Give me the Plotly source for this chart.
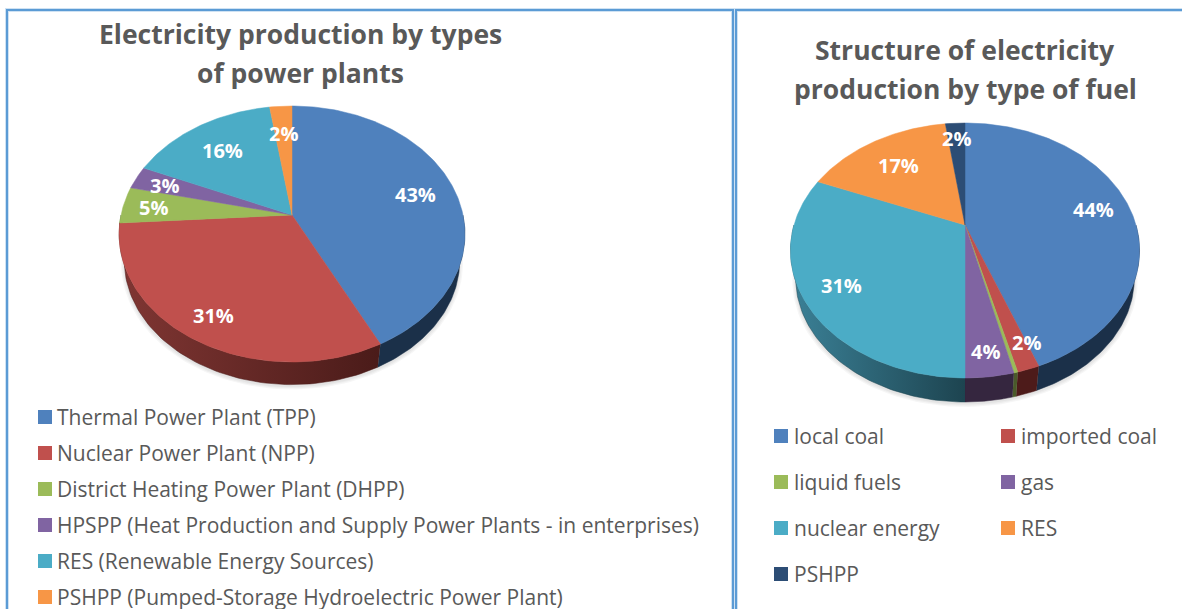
import numpy as np
import plotly.graph_objects as go

# left pie: electricity production by types of power plants
plant_names = ["Thermal Power Plant (TPP)", "Nuclear Power Plant (NPP)",
               "District Heating Power Plant (DHPP)",
               "HPSPP (Heat Production and Supply Power Plants - in enterprises)",
               "RES (Renewable Energy Sources)",
               "PSHPP (Pumped-Storage Hydroelectric Power Plant)"]
plant_shares = [42.6, 31.4, 4.6, 2.9, 16.1, 2.4]
plant_colours = ["#4F81BD", "#C0504D", "#9BBB59", "#8064A2", "#4BACC6", "#F79646"]
plant_label_pos = [0.77, 0.80, 0.82, 0.82, 0.74, 0.76]
plant_label_turn = [0, 0, 0, 0, 0, 0]

# right pie: structure by type of fuel
fuel_names = ["local coal", "imported coal", "liquid fuels", "gas",
              "nuclear energy", "RES", "PSHPP"]
fuel_shares = [44.3, 1.7, 0.3, 3.7, 31.2, 16.6, 2.2]
fuel_colours = ["#4F81BD", "#C0504D", "#9BBB59", "#8064A2", "#4BACC6", "#F79646", "#2C4D75"]
fuel_label_pos = [0.79, 0.825, 0.0, 0.83, 0.77, 0.73, 0.86]
fuel_label_turn = [0, -0.06, 0, 0, 0, 0, 0]

# side wall colours, left end and right end of each slice
plant_walls = [("#1B3049", "#1B3049"), ("#803633", "#4A1B19"), ("#5C7035", "#5C7035"),
               ("#4C3B61", "#4C3B61"), ("#2D6776", "#2D6776"), ("#94591F", "#94591F")]
fuel_walls = [("#1B3049", "#1B3049"), ("#4D1B1A", "#4D1B1A"), ("#4A5A2A", "#4A5A2A"),
              ("#35263F", "#35263F"), ("#3B8197", "#1D4450"), ("#94591F", "#94591F"),
              ("#1B3049", "#1B3049")]

GREY = "#595959"
FRAME = "#5B9BD5"
FRAME_EDGE = "#CFE2F3"
FONT = "Open Sans"


def rim(theta, cx, cy, a, b, p, scale=1.0, drop=0.0):
    # tilted disc, the near edge is drawn bigger than the far edge
    u, v = np.sin(theta), np.cos(theta)
    w = 1 + p * v
    return cx + scale * a * u / w, cy - scale * b * v / w + drop


def add_pie(fig, shares, colours, walls, label_pos, label_turn, cx, cy, a, b, p, drop):
    edges = 2 * np.pi * np.cumsum([0] + shares) / sum(shares)

    # soft shadow under the disc
    t = np.linspace(0, 2 * np.pi, 200)
    for grow in [1.02, 1.012, 1.004]:
        x, y = rim(t, cx, cy, a, b, p, 0.97 * grow, drop + 2)
        fig.add_trace(go.Scatter(x=x, y=y, mode="lines", fill="toself", line_width=0,
                                 fillcolor="rgba(0,0,0,0.035)", hoverinfo="skip"))

    # side walls, only the front half of the disc shows them
    for i in range(len(shares)):
        start, end = max(edges[i], np.pi / 2), min(edges[i + 1], 3 * np.pi / 2)
        if end <= start:
            continue
        t = np.linspace(start, end, 80)
        x0, y0 = rim(t, cx, cy, a, b, p)
        x1, y1 = rim(t[::-1], cx, cy, a, b, p, 0.97, drop)
        fig.add_trace(go.Scatter(
            x=np.r_[x0, x1], y=np.r_[y0, y1], mode="lines", fill="toself",
            line=dict(width=0.5, color=walls[i][1]), hoverinfo="skip",
            fillgradient=dict(type="horizontal",
                              colorscale=[[0, walls[i][0]], [1, walls[i][1]]])))

    # top of the disc
    for i in range(len(shares)):
        t = np.linspace(edges[i], edges[i + 1], max(int(shares[i] * 4), 3))
        x, y = rim(t, cx, cy, a, b, p)
        fig.add_trace(go.Scatter(x=np.r_[cx, x, cx], y=np.r_[cy, y, cy], mode="lines",
                                 fill="toself", fillcolor=colours[i],
                                 line=dict(width=0.5, color=colours[i]), hoverinfo="skip"))

    # percent labels
    for i in range(len(shares)):
        if label_pos[i] == 0:
            continue
        x, y = rim((edges[i] + edges[i + 1]) / 2 + label_turn[i], cx, cy, a, b, p)
        fig.add_annotation(x=cx + label_pos[i] * (x - cx), y=cy + label_pos[i] * (y - cy) + 1,
                           text=f"<b>{shares[i]:.0f}%</b>", showarrow=False, borderpad=0,
                           font=dict(family=FONT, size=20, color="white"))


def add_legend(fig, names, colours, xs, ys, gap):
    fig.add_trace(go.Scatter(x=xs, y=ys, mode="markers", hoverinfo="skip",
                             marker=dict(symbol="square", size=14, color=colours, line_width=0)))
    for name, x, y in zip(names, xs, ys):
        fig.add_annotation(x=x + gap, y=y, text=name, showarrow=False, xanchor="left",
                           font=dict(family=FONT, size=21, color=GREY))


def add_title(fig, lines, x, y0):
    for i, line in enumerate(lines):
        fig.add_annotation(x=x, y=y0 + 39 * i, text=f"<b>{line}</b>", showarrow=False,
                           font=dict(family=FONT, size=26.5, color=GREY))


fig = go.Figure()

add_pie(fig, plant_shares, plant_colours, plant_walls, plant_label_pos, plant_label_turn,
        292, 215, 171, 125.2, 0.1485, 27)
add_pie(fig, fuel_shares, fuel_colours, fuel_walls, fuel_label_pos, fuel_label_turn,
        965, 225, 171, 122.4, 0.2, 28.6)

add_legend(fig, plant_names, plant_colours, [45] * 6, [417 + 36 * i for i in range(6)], 10)
add_legend(fig, fuel_names, fuel_colours,
           [781 + 227 * (i % 2) for i in range(7)], [436 + 46 * (i // 2) for i in range(7)], 11)

add_title(fig, ["Electricity production by types", "of power plants"], 300, 34)
add_title(fig, ["Structure of electricity", "production by type of fuel"], 965, 50)

# the two panel frames, a pale edge under a stronger line
for x0, x1 in [(7, 733), (736, 1190)]:
    fig.add_shape(type="rect", x0=x0, x1=x1, y0=10, y1=620, layer="below",
                  line=dict(color=FRAME_EDGE, width=4))
    fig.add_shape(type="rect", x0=x0, x1=x1, y0=10, y1=620, layer="below",
                  line=dict(color=FRAME, width=2))

fig.update_xaxes(range=[0, 1182], visible=False)
fig.update_yaxes(range=[609, 0], visible=False)
fig.update_layout(width=1182, height=609, margin=dict(l=0, r=0, t=0, b=0),
                  showlegend=False, plot_bgcolor="white", paper_bgcolor="white")

fig.write_html("out.html", config=dict(displayModeBar=False),
               post_script="document.body.style.margin='0';document.body.style.overflow='hidden';")
